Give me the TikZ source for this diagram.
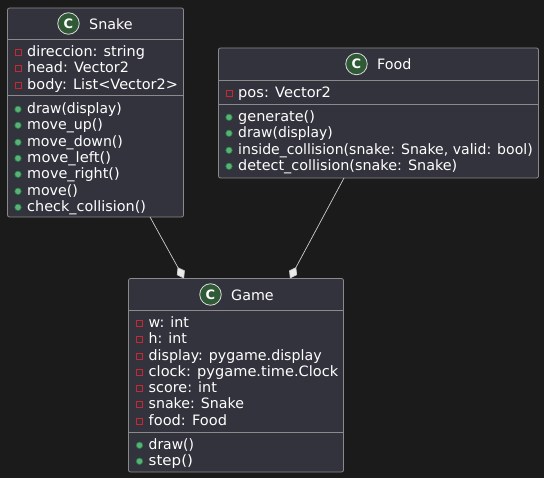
\documentclass[tikz,border=0pt]{standalone}
\usepackage{fontspec}
\usepackage{graphicx}
\setmainfont{DejaVu Sans}
\usetikzlibrary{arrows.meta}
\definecolor{bgc}{HTML}{1B1B1B}
\definecolor{boxc}{HTML}{33333D}
\definecolor{linec}{HTML}{8A8A8A}
\definecolor{txtc}{HTML}{FFFFFF}
\definecolor{redc}{HTML}{C82930}
\definecolor{greenfill}{HTML}{5DB075}
\definecolor{greenline}{HTML}{1F8048}
\definecolor{spotc}{HTML}{2F5A35}
\tikzset{
  x=1pt,y=-1pt,
  classbox/.style={draw=linec,fill=boxc,line width=0.8pt,rounded corners=2pt},
  sepline/.style={draw=linec,line width=0.8pt},
  member/.style={anchor=base west,inner sep=0pt,text=txtc,font=\fontsize{14.3}{16}\selectfont},
  title/.style={anchor=base west,inner sep=0pt,text=txtc,font=\fontsize{14.3}{16}\selectfont},
  spot/.style={circle,draw=txtc!85!black,fill=spotc,line width=0.8pt,minimum size=21.5pt,inner sep=0pt,text=white,font=\bfseries\fontsize{13}{14}\selectfont},
  privm/.style={draw=redc,line width=0.8pt,fill=none,minimum size=6pt,inner sep=0pt},
  pubm/.style={circle,draw=greenline,fill=greenfill,line width=0.6pt,minimum size=6.5pt,inner sep=0pt},
  compo/.style={draw=txtc!80!black,line width=0.7pt,-{Diamond[length=13pt,width=9pt,fill=txtc!92!black]}},
}
\newsavebox{\rowbox}
\newlength{\rowwd}
\newcommand{\memberrow}[5]{% kind, x, baseline, text, right end of the text
  \node[#1] at (#2,#3-3.7) {};
  \node[member] at (#2+9,#3+0.7) {\sbox{\rowbox}{#4}\setlength{\rowwd}{\wd\rowbox}%
    \pgfmathsetmacro{\rowscale}{(#5-#2-9+0.8)/\rowwd}%
    \scalebox{\rowscale}[1]{\usebox{\rowbox}}};
}
\begin{document}
\begin{tikzpicture}
\useasboundingbox[fill=bgc] (0,0) rectangle (544,478);
% Snake
\draw[classbox] (7.5,8) rectangle (183.5,217);
\coordinate (snakeout) at (150,217);
\draw[sepline] (7.5,39.5)--(183.5,39.5) (7.5,95.5)--(183.5,95.5);
\node[spot] (snakespot) at (68.5,23.5) {C};
\node[title] (snaketitle) at (89,29.5) {Snake};
\memberrow{privm}{18}{56}{direccion: string}{144}
\memberrow{privm}{18}{72}{head: Vector2}{128}
\memberrow{privm}{18}{89}{body: List<Vector2>}{177}
\memberrow{pubm}{18}{113}{draw(display)}{120.7}
\memberrow{pubm}{18}{129}{move\_up()}{102}
\memberrow{pubm}{18}{146}{move\_down()}{122}
\memberrow{pubm}{18}{162}{move\_left()}{110}
\memberrow{pubm}{18}{178}{move\_right()}{118.7}
\memberrow{pubm}{18}{195}{move()}{77}
\memberrow{pubm}{18}{211}{check\_collision()}{145}
% Food
\draw[classbox] (218.5,48) rectangle (538.5,178);
\coordinate (foodout) at (344,178);
\draw[sepline] (218.5,80)--(538.5,80) (218.5,104)--(538.5,104);
\node[spot] (foodspot) at (356.5,64) {C};
\node[title] (foodtitle) at (377,69.5) {Food};
\memberrow{privm}{229}{97}{pos: Vector2}{330}
\memberrow{pubm}{229}{121}{generate()}{314}
\memberrow{pubm}{229}{137}{draw(display)}{331.7}
\memberrow{pubm}{229}{154}{inside\_collision(snake: Snake, valid: bool)}{531.7}
\memberrow{pubm}{229}{170}{detect\_collision(snake: Snake)}{456.3}
% Game
\draw[classbox] (128.5,278.5) rectangle (343.5,472);
\coordinate (gamein1) at (184,278.5);
\coordinate (gamein2) at (290,278.5);
\draw[sepline] (128.5,310)--(343.5,310) (128.5,432)--(343.5,432);
\node[spot] (gamespot) at (210.5,294.5) {C};
\node[title] (gametitle) at (231,300.5) {Game};
\memberrow{privm}{139.5}{327}{w: int}{188}
\memberrow{privm}{139.5}{343}{h: int}{186}
\memberrow{privm}{139.5}{360}{display: pygame.display}{320.7}
\memberrow{privm}{139.5}{376}{clock: pygame.time.Clock}{337.3}
\memberrow{privm}{139.5}{392}{score: int}{216}
\memberrow{privm}{139.5}{408}{snake: Snake}{243}
\memberrow{privm}{139.5}{425}{food: Food}{226}
\memberrow{pubm}{139.5}{449}{draw()}{193}
\memberrow{pubm}{139.5}{465}{step()}{192}
% connectors
\draw[compo] (snakeout) -- (gamein1);
\draw[compo] (foodout) -- (gamein2);
\end{tikzpicture}
\end{document}
